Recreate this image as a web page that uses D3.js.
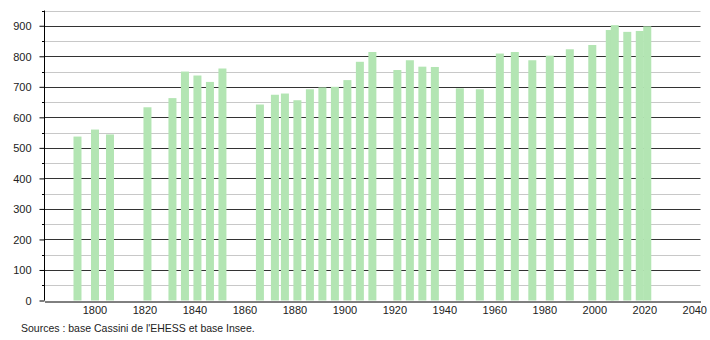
<!DOCTYPE html>
<html>
<head>
<meta charset="utf-8">
<script src="https://cdn.jsdelivr.net/npm/d3@7/dist/d3.min.js"></script>
<style>
  body { margin: 0; background: #fff; }
  svg { display: block; font-family: 'Liberation Sans', Arial, sans-serif; }
  .tick text { font-size: 11px; fill: #222; }
  .source { font-size: 10.5px; fill: #222; }
</style>
</head>
<body>
<div id="chart"></div>
<script>
// census years and population
const years = [1793, 1800, 1806, 1821, 1831, 1836, 1841, 1846, 1851,
  1866, 1872, 1876, 1881, 1886, 1891, 1896, 1901, 1906, 1911,
  1921, 1926, 1931, 1936, 1946, 1954, 1962, 1968, 1975, 1982,
  1990, 1999, 2006, 2008, 2013, 2018, 2021];
const population = [537, 560, 544, 633, 663, 750, 737, 716, 760,
  642, 674, 678, 656, 692, 698, 700, 722, 782, 814,
  755, 787, 766, 765, 695, 692, 809, 814, 787, 802,
  823, 837, 886, 902, 880, 883, 898];
const xTicks = [1800, 1820, 1840, 1860, 1880, 1900, 1920, 1940, 1960, 1980, 2000, 2020, 2040];
const yMajor = [0, 100, 200, 300, 400, 500, 600, 700, 800, 900];
const yMinor = [50, 150, 250, 350, 450, 550, 650, 750, 850, 950];

const width = 710, height = 340;
const x = d3.scaleLinear().domain([1780, 2042.5]).range([44.5, 700.5]);
const y = d3.scaleLinear().domain([0, 950]).range([300.5, 10.5]);
const barW = 8;

const svg = d3.select("#chart").append("svg")
  .attr("width", width).attr("height", height);

// minor gridlines
svg.append("g").selectAll("line").data(yMinor).join("line")
  .attr("x1", x(1780)).attr("x2", x(2042.5))
  .attr("y1", d => Math.round(y(d)) + 0.5).attr("y2", d => Math.round(y(d)) + 0.5)
  .attr("stroke", "#c8c8c8");

// major gridlines
svg.append("g").selectAll("line").data(yMajor.slice(1)).join("line")
  .attr("x1", x(1780)).attr("x2", x(2042.5))
  .attr("y1", d => Math.round(y(d)) + 0.5).attr("y2", d => Math.round(y(d)) + 0.5)
  .attr("stroke", "#333");

// bars
svg.append("g").selectAll("rect").data(years).join("rect")
  .attr("x", d => x(d) - 3.5)
  .attr("width", barW)
  .attr("y", (d, i) => y(population[i]))
  .attr("height", (d, i) => y(0) - y(population[i]))
  .attr("fill", "#b3e5b3");

// y axis
const yAxis = svg.append("g")
  .attr("transform", "translate(44.5,0)")
  .call(d3.axisLeft(y).tickValues(yMajor).tickSize(5).tickPadding(8).tickFormat(d3.format("d")));
yAxis.select(".domain").attr("stroke", "#000").attr("d", "M0," + y(950) + "V" + y(0));
yAxis.selectAll(".tick line").attr("stroke", "#000");
yAxis.selectAll(".tick text").attr("dy", "0.34em");

svg.append("g").selectAll("line").data(yMinor).join("line")
  .attr("x1", 42).attr("x2", 44.5)
  .attr("y1", d => Math.round(y(d)) + 0.5).attr("y2", d => Math.round(y(d)) + 0.5)
  .attr("stroke", "#000");

// x axis
const xAxis = svg.append("g")
  .attr("transform", "translate(0," + (Math.round(y(0)) + 0.5) + ")")
  .call(d3.axisBottom(x).tickValues(xTicks).tickSize(0).tickPadding(5).tickFormat(d3.format("d")));
xAxis.select(".domain").attr("stroke", "#000");

svg.append("text")
  .attr("class", "source")
  .attr("x", 21).attr("y", 332)
  .text("Sources : base Cassini de l'EHESS et base Insee.");
</script>
</body>
</html>
